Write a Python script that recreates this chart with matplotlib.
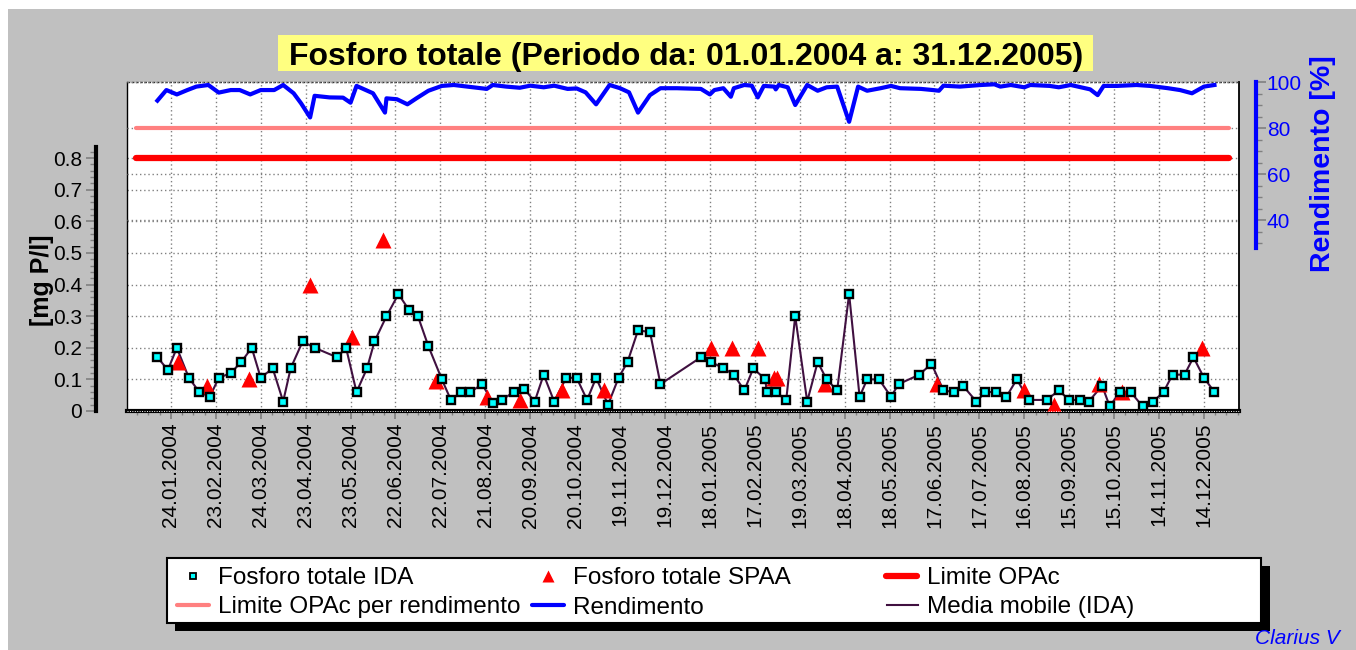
import numpy as np
import matplotlib
matplotlib.use("Agg")
import matplotlib.pyplot as plt
import matplotlib.dates as mdates
from matplotlib.lines import Line2D
from matplotlib.patches import Rectangle
from matplotlib.ticker import FixedLocator, FuncFormatter

plt.rcParams['font.family'] = ['Liberation Sans', 'DejaVu Sans']

# ---- data ----
title = "Fosforo totale (Periodo da: 01.01.2004 a: 31.12.2005)"

ida_dates = [
    "2004-01-15", "2004-01-22", "2004-01-28",
    "2004-02-05", "2004-02-12", "2004-02-19", "2004-02-25",
    "2004-03-04", "2004-03-11", "2004-03-18", "2004-03-24",
    "2004-04-01", "2004-04-08", "2004-04-13", "2004-04-21", "2004-04-29",
    "2004-05-14", "2004-05-20", "2004-05-27",
    "2004-06-03", "2004-06-08", "2004-06-16", "2004-06-24",
    "2004-07-01", "2004-07-07", "2004-07-14", "2004-07-23", "2004-07-29",
    "2004-08-05", "2004-08-11", "2004-08-19", "2004-08-26",
    "2004-09-01", "2004-09-09", "2004-09-16", "2004-09-23", "2004-09-29",
    "2004-10-06", "2004-10-14", "2004-10-21", "2004-10-28",
    "2004-11-03", "2004-11-11", "2004-11-18", "2004-11-24",
    "2004-12-01", "2004-12-09", "2004-12-16",
    "2005-01-12", "2005-01-19", "2005-01-27",
    "2005-02-03", "2005-02-10", "2005-02-16", "2005-02-24", "2005-02-25",
    "2005-03-03", "2005-03-10", "2005-03-16", "2005-03-24", "2005-03-31",
    "2005-04-06", "2005-04-13", "2005-04-21", "2005-04-28",
    "2005-05-03", "2005-05-11", "2005-05-19", "2005-05-24",
    "2005-06-07", "2005-06-15", "2005-06-23", "2005-06-30",
    "2005-07-06", "2005-07-15", "2005-07-21", "2005-07-28",
    "2005-08-04", "2005-08-11", "2005-08-19", "2005-08-31",
    "2005-09-08", "2005-09-15", "2005-09-22", "2005-09-28",
    "2005-10-07", "2005-10-12", "2005-10-19", "2005-10-26",
    "2005-11-03", "2005-11-10", "2005-11-17", "2005-11-23",
    "2005-12-01", "2005-12-07", "2005-12-14", "2005-12-21",
]
ida_values = [
    0.17, 0.13, 0.20,
    0.105, 0.06, 0.045, 0.105,
    0.12, 0.155, 0.20, 0.105,
    0.135, 0.03, 0.135, 0.22, 0.20,
    0.17, 0.20, 0.06,
    0.135, 0.22, 0.30, 0.37,
    0.32, 0.30, 0.205, 0.10, 0.035,
    0.06, 0.06, 0.085, 0.025,
    0.035, 0.06, 0.07, 0.03, 0.115,
    0.03, 0.105, 0.105, 0.035,
    0.105, 0.02, 0.105, 0.155,
    0.255, 0.25, 0.085,
    0.17, 0.155, 0.135,
    0.115, 0.065, 0.135, 0.10, 0.06,
    0.06, 0.035, 0.30, 0.03, 0.155,
    0.10, 0.065, 0.37, 0.045,
    0.10, 0.10, 0.045, 0.085,
    0.115, 0.15, 0.065, 0.06,
    0.08, 0.03, 0.06, 0.06,
    0.045, 0.10, 0.035, 0.035,
    0.065, 0.035, 0.035, 0.03,
    0.08, 0.015, 0.06, 0.06,
    0.015, 0.03, 0.06, 0.115,
    0.115, 0.17, 0.105, 0.06,
]

spaa_dates = [
    "2004-01-29", "2004-02-17", "2004-03-16", "2004-04-26", "2004-05-24",
    "2004-06-14", "2004-07-19", "2004-08-22", "2004-09-13", "2004-10-11",
    "2004-11-08", "2005-01-19", "2005-02-02", "2005-02-19", "2005-03-02",
    "2005-03-04", "2005-04-05", "2005-06-19", "2005-08-16", "2005-09-05",
    "2005-10-05", "2005-10-20", "2005-12-13",
]
spaa_values = [
    0.155, 0.078, 0.10, 0.40, 0.235,
    0.54, 0.095, 0.045, 0.035, 0.065,
    0.065, 0.20, 0.20, 0.20, 0.105,
    0.105, 0.085, 0.085, 0.068, 0.02,
    0.085, 0.06, 0.20,
]

rend_dates = [
    "2004-01-15", "2004-01-21", "2004-01-28", "2004-02-04", "2004-02-10",
    "2004-02-18", "2004-02-25", "2004-03-04", "2004-03-10", "2004-03-17",
    "2004-03-24", "2004-04-02", "2004-04-08", "2004-04-15", "2004-04-20",
    "2004-04-26", "2004-04-29", "2004-05-09", "2004-05-18", "2004-05-23",
    "2004-05-27", "2004-06-07", "2004-06-15", "2004-06-16", "2004-06-23",
    "2004-06-30", "2004-07-06", "2004-07-14", "2004-07-23", "2004-07-31",
    "2004-08-09", "2004-08-22", "2004-08-26", "2004-09-04", "2004-09-13",
    "2004-09-20", "2004-09-29", "2004-10-06", "2004-10-15", "2004-10-21",
    "2004-10-27", "2004-11-03", "2004-11-12", "2004-11-19", "2004-11-25",
    "2004-12-01", "2004-12-09", "2004-12-16", "2004-12-27", "2005-01-12",
    "2005-01-18", "2005-01-21", "2005-01-27", "2005-02-01", "2005-02-03",
    "2005-02-10", "2005-02-15", "2005-02-19", "2005-02-23", "2005-03-02",
    "2005-03-03", "2005-03-05", "2005-03-11", "2005-03-16", "2005-03-24",
    "2005-03-31", "2005-04-06", "2005-04-13", "2005-04-21", "2005-04-27",
    "2005-05-03", "2005-05-12", "2005-05-19", "2005-05-25", "2005-06-08",
    "2005-06-16", "2005-06-20", "2005-06-23", "2005-07-04", "2005-07-18",
    "2005-07-27", "2005-07-31", "2005-08-07", "2005-08-16", "2005-08-20",
    "2005-09-02", "2005-09-08", "2005-09-16", "2005-09-29", "2005-10-04",
    "2005-10-08", "2005-10-17", "2005-10-30", "2005-11-08", "2005-11-20",
    "2005-11-28", "2005-12-06", "2005-12-14", "2005-12-21",
]
rend_values = [
    91.9, 96.5, 94.6, 96.5, 98.0,
    98.7, 95.4, 96.5, 96.5, 94.6,
    96.5, 96.5, 98.7, 95.1, 90.7,
    84.6, 94.0, 93.3, 93.2, 91.0,
    98.3, 95.1, 86.7, 92.9, 92.5,
    90.3, 92.9, 96.2, 98.3, 98.7,
    98.0, 97.0, 98.7, 98.0, 97.5,
    98.4, 97.7, 98.4, 97.0, 97.2,
    95.5, 90.3, 98.7, 97.3, 95.5,
    86.7, 94.3, 97.3, 97.3, 97.0,
    94.6, 96.5, 97.3, 93.6, 97.3,
    98.7, 98.4, 93.3, 98.3, 98.0,
    96.8, 98.7, 97.7, 90.0, 98.7,
    96.2, 97.7, 98.0, 82.7, 98.0,
    96.2, 97.3, 98.3, 97.3, 97.0,
    96.5, 96.2, 98.4, 98.0, 98.7,
    99.0, 98.0, 98.7, 97.7, 98.7,
    98.3, 97.7, 98.7, 96.8, 94.3,
    98.3, 98.3, 98.7, 98.3, 97.3,
    96.5, 95.1, 98.0, 98.7,
]

limit_dates = ["2004-01-01", "2005-12-31"]
limite_opac = 0.8          # mg P/l
limite_rendimento = 80     # %

tick_labels = [
    "24.01.2004", "23.02.2004", "24.03.2004", "23.04.2004", "23.05.2004",
    "22.06.2004", "22.07.2004", "21.08.2004", "20.09.2004", "20.10.2004",
    "19.11.2004", "19.12.2004", "18.01.2005", "17.02.2005", "19.03.2005",
    "18.04.2005", "18.05.2005", "17.06.2005", "17.07.2005", "16.08.2005",
    "15.09.2005", "15.10.2005", "14.11.2005", "14.12.2005",
]
left_ticks = [0, 0.1, 0.2, 0.3, 0.4, 0.5, 0.6, 0.7, 0.8]
right_ticks = [40, 60, 80, 100]

legend_labels = ["Fosforo totale IDA", "Fosforo totale SPAA", "Limite OPAc",
                 "Limite OPAc per rendimento", "Rendimento", "Media mobile (IDA)"]


def to_num(dates):
    return mdates.date2num(np.array(dates, dtype='datetime64[D]'))


def label_to_num(labels):
    iso = [f"{s[6:]}-{s[3:5]}-{s[0:2]}" for s in labels]
    return to_num(iso)


ida_x = to_num(ida_dates)
spaa_x = to_num(spaa_dates)
rend_x = to_num(rend_dates)
limit_x = to_num(limit_dates)
tick_x = label_to_num(tick_labels)

# ---- figure, in pixel terms of the 1356x650 reference ----
W, H = 1356, 650
fig = plt.figure(figsize=(W / 100, H / 100), dpi=100, facecolor='white')


def fx(px):
    return px / W


def fy(py):
    return 1 - py / H


fig.add_artist(Rectangle((fx(8), 0), 1, fy(9), transform=fig.transFigure,
                         facecolor='#c0c0c0', edgecolor='none', zorder=-10))

# title on yellow box
fig.add_artist(Rectangle((fx(278), fy(71)), fx(1093) - fx(278), 36 / H,
                         transform=fig.transFigure, facecolor='#ffff80',
                         edgecolor='none', zorder=-5))
fig.text(fx(686), fy(65), title, fontsize=23, fontweight='bold',
         ha='center', va='baseline')

ax = fig.add_axes([fx(127), fy(411), (1239 - 127) / W, (411 - 82) / H])
ax.set_facecolor('white')
ax.set_xlim(tick_x[0] - 29.3, tick_x[-1] + 23.4)
ax.set_ylim(0, 1.041)
ax.set_axisbelow(True)

grid_kw = dict(color='#808080', linestyle=(0, (1, 2)), linewidth=1)

ax.plot(limit_x, [limite_opac] * 2, color='#ff0000', lw=4.5,
        solid_capstyle='round', zorder=2)
ax.plot(ida_x, ida_values, color='#401040', lw=1.5, zorder=3)
ax.plot(spaa_x, spaa_values, ls='none', marker='^', ms=11,
        color='#ff0000', mec='none', zorder=4)
ax.plot(ida_x, ida_values, ls='none', marker='s', ms=6,
        mfc='#00ffff', mec='black', mew=1.7, zorder=5)

# x axis
ax.set_xticks(tick_x, tick_labels, rotation=90)
ax.xaxis.set_minor_locator(FixedLocator(
    np.arange(tick_x[0] - 22.5, tick_x[-1] + 23, 7.5)))
ax.tick_params(axis='x', which='major', length=5.5, width=1.2,
               color='#808080', labelsize=15, pad=3)
ax.tick_params(axis='x', which='minor', length=3, width=1, color='#808080')
ax.grid(axis='x', which='major', **grid_kw)

# left axis
ax.yaxis.set_major_locator(FixedLocator(left_ticks))
ax.yaxis.set_minor_locator(FixedLocator(np.arange(0, 0.835, 0.02)))
ax.yaxis.set_major_formatter(FuncFormatter(lambda v, p: f"{v:g}"))
ax.tick_params(axis='y', which='major', length=7.5, width=1.2,
               color='#808080', labelsize=15, pad=3)
ax.tick_params(axis='y', which='minor', length=4.5, width=1, color='#808080')
ax.grid(axis='y', which='major', **grid_kw)

ax.spines['top'].set_visible(False)
ax.spines['right'].set_visible(False)
ax.spines['left'].set_position(('outward', 22))
ax.spines['left'].set_linewidth(3)
ax.spines['left'].set_bounds(0, 0.835)
ax.spines['bottom'].set_linewidth(3)

# plot frame
ax.plot([0, 0], [0, 1], transform=ax.transAxes, color='black', lw=1,
        clip_on=False, zorder=6)
ax.plot([1, 1], [0, 1], transform=ax.transAxes, color='black', lw=1.3,
        clip_on=False, zorder=6)
ax.plot([0, 1], [1, 1], transform=ax.transAxes, color='#303030', lw=1,
        ls=(0, (2, 1)), clip_on=False, zorder=6)
ax.plot([0, 1], [0, 0], transform=ax.transAxes, color='white', lw=0.7,
        ls=(0, (1, 1.5)), clip_on=False, zorder=7)

# right axis: rendimento
ax2 = ax.twinx()
ax2.set_ylim(-43, 100)
ax2.set_axisbelow(True)
ax2.plot(limit_x, [limite_rendimento] * 2, color='#ff8080', lw=3,
         solid_capstyle='round', zorder=2)
ax2.plot(rend_x, rend_values, color='#0000ff', lw=3, zorder=3)
ax2.yaxis.set_major_locator(FixedLocator(right_ticks))
ax2.yaxis.set_minor_locator(FixedLocator(np.arange(30, 100, 5)))
ax2.tick_params(axis='y', which='major', length=7.5, width=1.2,
                color='#808080', labelcolor='#0000ff', labelsize=15, pad=0.5)
ax2.tick_params(axis='y', which='minor', length=4.5, width=1, color='#808080')
ax2.grid(axis='y', which='major', **grid_kw)
for s in ['top', 'left', 'bottom']:
    ax2.spines[s].set_visible(False)
ax2.spines['right'].set_position(('outward', 12))
ax2.spines['right'].set_color('#0000ff')
ax2.spines['right'].set_linewidth(3)
ax2.spines['right'].set_bounds(28, 100)

# axis titles
fig.text(fx(42), fy(280), "[mg P/l]", rotation=90, fontsize=18,
         fontweight='bold', ha='center', va='center')
fig.text(fx(1323), fy(164), "Rendimento [%]", rotation=90, fontsize=20.5,
         fontweight='bold', color='#0000ff', ha='center', va='center')

# legend (fixed 3-column grid with drop shadow)
fig.add_artist(Rectangle((fx(175), fy(631)), fx(1270) - fx(175), 65 / H,
                         transform=fig.transFigure, facecolor='black',
                         edgecolor='none', zorder=1))
fig.add_artist(Rectangle((fx(167), fy(623)), fx(1261) - fx(167), 65.5 / H,
                         transform=fig.transFigure, facecolor='white',
                         edgecolor='black', lw=1.5, zorder=2))
row1, row2 = fy(576), fy(605)
fig.add_artist(Line2D([fx(193)], [row1], ls='none', marker='s', ms=4,
                      mfc='#00ffff', mec='black', mew=1.3,
                      transform=fig.transFigure, zorder=3))
fig.add_artist(Line2D([fx(548)], [row1], ls='none', marker='^', ms=9,
                      color='#ff0000', mec='none',
                      transform=fig.transFigure, zorder=3))
fig.add_artist(Line2D([fx(886), fx(917)], [row1, row1], color='#ff0000',
                      lw=4.5, solid_capstyle='round',
                      transform=fig.transFigure, zorder=3))
fig.add_artist(Line2D([fx(177), fx(209)], [row2, row2], color='#ff8080',
                      lw=3, solid_capstyle='round',
                      transform=fig.transFigure, zorder=3))
fig.add_artist(Line2D([fx(532), fx(564)], [row2, row2], color='#0000ff',
                      lw=3, solid_capstyle='round',
                      transform=fig.transFigure, zorder=3))
fig.add_artist(Line2D([fx(887), fx(918)], [row2, row2], color='#401040',
                      lw=1.5, transform=fig.transFigure, zorder=3))
text_pos = [(218, row1), (573, row1), (927, row1),
            (218, row2), (573, row2), (927, row2)]
for (px, ry), lab in zip(text_pos, legend_labels):
    fig.text(fx(px), ry, lab, fontsize=17.5, ha='left', va='center_baseline',
             zorder=4)

fig.text(fx(1255), fy(648), "Clarius V", fontsize=15, style='italic',
         color='#0000ff', ha='left', va='bottom')

fig.savefig("out.png", dpi=100, facecolor=fig.get_facecolor())
